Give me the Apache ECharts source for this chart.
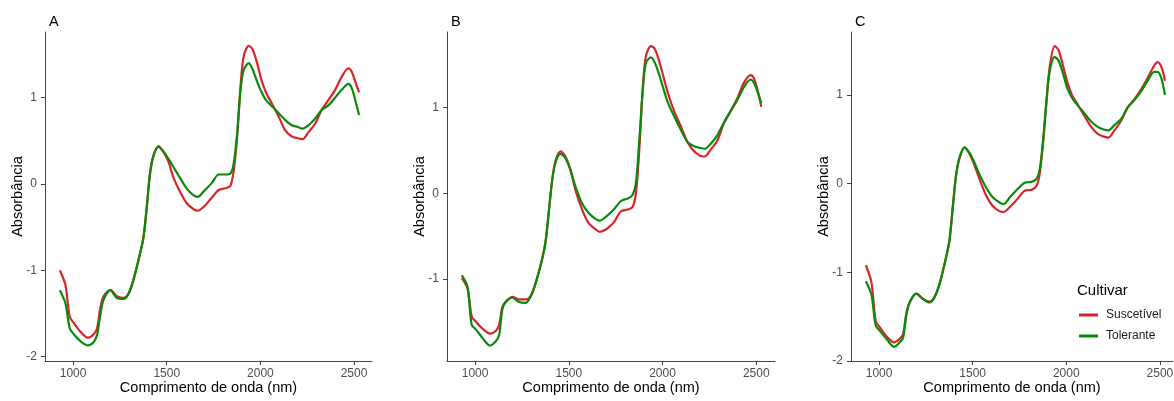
<!DOCTYPE html>
<html>
<head>
<meta charset="utf-8">
<script src="https://cdn.jsdelivr.net/npm/echarts@6/dist/echarts.min.js"></script>
<style>
html,body{margin:0;padding:0;background:#fff;}
#chart{width:1174px;height:401px;}
</style>
</head>
<body>
<div id="chart"></div>
<script>
// Wavelength grid (nm)
const wavelength = [929, 959, 982, 1004, 1039, 1080, 1110, 1128, 1145, 1163, 1199, 1234, 1270, 1296, 1323, 1358, 1376, 1394, 1411, 1429, 1456, 1482, 1509, 1535, 1571, 1606, 1642, 1665, 1700, 1740, 1778, 1814, 1840, 1858, 1876, 1894, 1911, 1938, 1958, 1980, 2005, 2030, 2062, 2098, 2133, 2168, 2200, 2225, 2257, 2293, 2328, 2363, 2399, 2434, 2470, 2488, 2509, 2527];

// Panel A
const aSuscetivel = [-1.00, -1.17, -1.54, -1.61, -1.71, -1.78, -1.74, -1.67, -1.44, -1.30, -1.23, -1.30, -1.32, -1.27, -1.11, -0.80, -0.61, -0.26, 0.12, 0.32, 0.44, 0.37, 0.26, 0.08, -0.09, -0.22, -0.29, -0.31, -0.26, -0.16, -0.07, -0.05, -0.02, 0.16, 0.55, 1.13, 1.48, 1.60, 1.56, 1.42, 1.21, 1.06, 0.93, 0.78, 0.62, 0.55, 0.53, 0.52, 0.60, 0.70, 0.86, 0.97, 1.09, 1.24, 1.34, 1.30, 1.17, 1.06];
const aTolerante = [-1.23, -1.38, -1.67, -1.74, -1.82, -1.87, -1.83, -1.75, -1.52, -1.34, -1.23, -1.32, -1.33, -1.27, -1.10, -0.80, -0.62, -0.25, 0.13, 0.33, 0.43, 0.38, 0.29, 0.20, 0.07, -0.05, -0.13, -0.15, -0.08, 0.01, 0.11, 0.11, 0.12, 0.24, 0.59, 1.09, 1.32, 1.40, 1.33, 1.20, 1.07, 0.97, 0.90, 0.82, 0.74, 0.68, 0.66, 0.64, 0.68, 0.76, 0.86, 0.91, 1.00, 1.09, 1.16, 1.11, 0.95, 0.80];

// Panel B
const bSuscetivel = [-0.99, -1.11, -1.44, -1.50, -1.58, -1.64, -1.61, -1.54, -1.33, -1.27, -1.21, -1.24, -1.24, -1.20, -1.05, -0.76, -0.56, -0.20, 0.15, 0.38, 0.49, 0.43, 0.27, 0.04, -0.19, -0.35, -0.42, -0.45, -0.42, -0.34, -0.21, -0.19, -0.16, 0.00, 0.51, 1.21, 1.60, 1.72, 1.69, 1.56, 1.36, 1.16, 0.96, 0.78, 0.60, 0.49, 0.44, 0.43, 0.51, 0.62, 0.82, 0.96, 1.11, 1.29, 1.38, 1.34, 1.19, 1.01];
const bTolerante = [-0.96, -1.09, -1.54, -1.59, -1.69, -1.78, -1.73, -1.66, -1.36, -1.27, -1.22, -1.27, -1.28, -1.21, -1.05, -0.77, -0.57, -0.20, 0.15, 0.36, 0.46, 0.41, 0.27, 0.08, -0.12, -0.23, -0.30, -0.32, -0.27, -0.19, -0.09, -0.06, -0.02, 0.12, 0.62, 1.19, 1.52, 1.59, 1.53, 1.40, 1.22, 1.05, 0.90, 0.74, 0.60, 0.55, 0.53, 0.52, 0.58, 0.68, 0.83, 0.96, 1.09, 1.24, 1.33, 1.29, 1.17, 1.05];

// Panel C
const cSuscetivel = [-0.92, -1.11, -1.55, -1.62, -1.72, -1.79, -1.75, -1.70, -1.47, -1.34, -1.24, -1.30, -1.33, -1.28, -1.13, -0.83, -0.64, -0.26, 0.09, 0.28, 0.41, 0.34, 0.21, 0.06, -0.13, -0.25, -0.31, -0.32, -0.26, -0.17, -0.08, -0.07, -0.03, 0.11, 0.46, 0.92, 1.31, 1.55, 1.51, 1.35, 1.15, 1.00, 0.89, 0.76, 0.64, 0.56, 0.53, 0.52, 0.60, 0.71, 0.86, 0.95, 1.06, 1.19, 1.33, 1.37, 1.31, 1.16];
const cTolerante = [-1.10, -1.25, -1.60, -1.66, -1.75, -1.84, -1.79, -1.74, -1.49, -1.34, -1.24, -1.30, -1.34, -1.28, -1.13, -0.83, -0.64, -0.26, 0.09, 0.29, 0.41, 0.35, 0.24, 0.11, -0.04, -0.15, -0.21, -0.23, -0.15, -0.06, 0.01, 0.02, 0.05, 0.16, 0.49, 0.93, 1.26, 1.43, 1.39, 1.26, 1.08, 0.97, 0.88, 0.79, 0.70, 0.64, 0.61, 0.60, 0.66, 0.73, 0.86, 0.94, 1.04, 1.16, 1.26, 1.26, 1.18, 1.00];

const panelLabels = ['A', 'B', 'C'];
const xTicks = [1000, 1500, 2000, 2500];
const yTicksA = [-2, -1, 0, 1];
const yTicksB = [-1, 0, 1];
const yTicksC = [-2, -1, 0, 1];
const seriesNames = ['Suscetível', 'Tolerante'];
const xTitle = 'Comprimento de onda (nm)';
const yTitle = 'Absorbância';
const legendTitle = 'Cultivar';

const FONT = '"Liberation Sans", Arial, sans-serif';
const RED = '#D7262B';
const GREEN = '#0A8A0A';

const panels = [
  {label: panelLabels[0], s: aSuscetivel, t: aTolerante, yTicks: yTicksA, yMin: -2.05, yMax: 1.76, left: 45, width: 327, xMax: 2596},
  {label: panelLabels[1], s: bSuscetivel, t: bTolerante, yTicks: yTicksB, yMin: -1.96, yMax: 1.885, left: 447, width: 328, xMax: 2600},
  {label: panelLabels[2], s: cSuscetivel, t: cTolerante, yTicks: yTicksC, yMin: -2.0, yMax: 1.71, left: 851, width: 322, xMax: 2570}
];

const toPairs = arr => wavelength.map((w, i) => [w, arr[i]]);

const option = {
  animation: false,
  backgroundColor: '#fff',
  textStyle: {fontFamily: FONT},
  title: panels.map(p => ({
    text: p.label, left: p.left - 1, top: 9,
    textStyle: {fontSize: 14.5, fontWeight: 'normal', color: '#000', fontFamily: FONT}
  })).concat([{
    text: legendTitle, left: 1072, top: 278,
    textStyle: {fontSize: 15, fontWeight: 'normal', color: '#000', fontFamily: FONT}
  }]),
  legend: {
    data: seriesNames,
    orient: 'vertical',
    left: 1074, top: 304,
    icon: 'rect',
    itemWidth: 19, itemHeight: 3,
    itemGap: 9,
    textStyle: {fontSize: 12, color: '#1a1a1a', fontFamily: FONT, padding: [0, 0, 0, 3]}
  },
  grid: panels.map(p => ({left: p.left, top: 32, width: p.width, height: 329, containLabel: false, outerBoundsMode: 'none'})),
  xAxis: panels.map((p, i) => ({
    type: 'value', gridIndex: i, min: 850, max: p.xMax,
    name: xTitle, nameLocation: 'middle', nameGap: 19, nameMoveOverlap: false,
    nameTextStyle: {fontSize: 14.5, color: '#000', fontFamily: FONT},
    splitLine: {show: false},
    axisLine: {onZero: false, lineStyle: {color: '#444', width: 1}},
    axisTick: {length: 4, lineStyle: {color: '#444'}, customValues: xTicks},
    axisLabel: {fontSize: 12, color: '#4D4D4D', margin: 7, customValues: xTicks, fontFamily: FONT,
                formatter: v => String(v)}
  })),
  yAxis: panels.map((p, i) => ({
    type: 'value', gridIndex: i, min: p.yMin, max: p.yMax,
    name: yTitle, nameLocation: 'middle', nameGap: 20, nameMoveOverlap: false,
    nameTextStyle: {fontSize: 14.5, color: '#000', fontFamily: FONT},
    splitLine: {show: false},
    axisLine: {show: true, onZero: false, lineStyle: {color: '#444', width: 1}},
    axisTick: {show: true, length: 4, lineStyle: {color: '#444'}, customValues: p.yTicks},
    axisLabel: {fontSize: 12, color: '#4D4D4D', margin: 8, customValues: p.yTicks, fontFamily: FONT,
                formatter: v => String(v)}
  })),
  series: panels.flatMap((p, i) => [
    {name: seriesNames[0], type: 'line', xAxisIndex: i, yAxisIndex: i, data: toPairs(p.s),
     showSymbol: false, smooth: 0.3, lineStyle: {width: 2.2, color: RED}, itemStyle: {color: RED}},
    {name: seriesNames[1], type: 'line', xAxisIndex: i, yAxisIndex: i, data: toPairs(p.t),
     showSymbol: false, smooth: 0.3, lineStyle: {width: 2.2, color: GREEN}, itemStyle: {color: GREEN}}
  ])
};

const chart = echarts.init(document.getElementById('chart'), null, {renderer: 'canvas'});
chart.setOption(option);
</script>
</body>
</html>
